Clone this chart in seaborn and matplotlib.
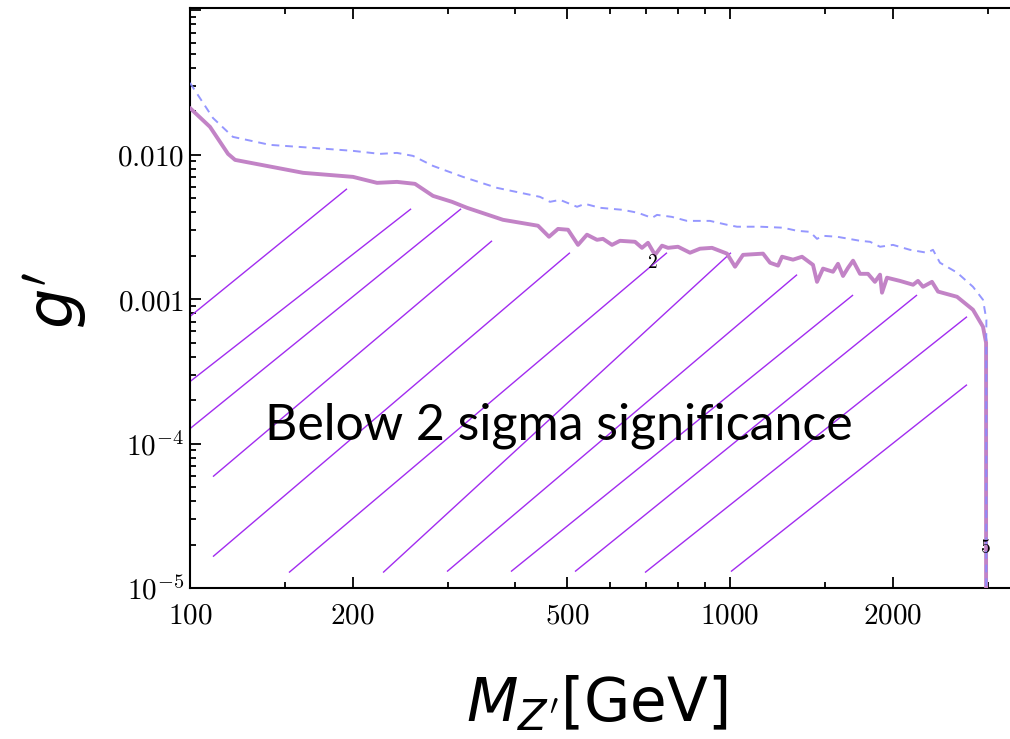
import numpy as np
import pandas as pd
import matplotlib
matplotlib.use("Agg")
import matplotlib.pyplot as plt
from matplotlib.ticker import FixedLocator, NullFormatter, LogLocator
import seaborn as sns

# 2-sigma significance contour (solid) and its companion contour (dashed)
mass_solid = [100, 108.9, 117.6, 121.2, 162.0, 200.4, 222.0, 241.7, 261.0, 281.8,
              305.6, 325.8, 379.8, 441.0, 462.2, 480.3, 501.2, 523.0, 543.4, 567.1,
              581.8, 604.6, 625.6, 667.0, 687.1, 704.9, 726.3, 748.3, 767.8, 801.2,
              843.2, 880.0, 926.3, 987.3, 1021.6, 1057.1, 1151.3, 1186.3, 1227.3, 1248.4,
              1308.3, 1359.4, 1424.7, 1449.2, 1486.8, 1551.5, 1584.9, 1619.2, 1654.0, 1690.0,
              1741.0, 1801.0, 1855.0, 1896.0, 1912.0, 1953.0, 2064.0, 2183.0, 2229.0, 2277.0,
              2366.0, 2428.0, 2633.0, 2818.0, 2941.0, 2980.0, 2980.0]
g_solid = [0.0211, 0.01563, 0.01016, 0.00923, 0.00751, 0.00704, 0.00640, 0.00650, 0.00630, 0.00520,
           0.00473, 0.00430, 0.00355, 0.00323, 0.00271, 0.00307, 0.00303, 0.00238, 0.00280, 0.00258,
           0.00262, 0.00238, 0.00254, 0.00250, 0.00227, 0.00246, 0.00203, 0.00235, 0.00227, 0.00231,
           0.00210, 0.00224, 0.00227, 0.00207, 0.00168, 0.00203, 0.00207, 0.00179, 0.00171, 0.00197,
           0.00188, 0.00197, 0.00173, 0.00132, 0.00163, 0.00155, 0.00176, 0.00145, 0.00165, 0.00185,
           0.00150, 0.00150, 0.00132, 0.00148, 0.00111, 0.00141, 0.00134, 0.00126, 0.00134, 0.00122,
           0.00132, 0.00113, 0.00104, 0.000846, 0.000645, 0.000500, 0.000005]

mass_dashed = [100, 110.3, 120.1, 140.6, 169.0, 200.4, 224.8, 241.7, 258.8, 281.8,
               320.2, 370.2, 444.7, 464.2, 484.4, 520.9, 538.8, 574.4, 633.8, 675.4,
               717.1, 732.5, 780.6, 832.4, 918.1, 987.3, 1030.3, 1136.7, 1253.5, 1330.7,
               1406.4, 1449.2, 1486.8, 1578.0, 1741.0, 1817.0, 1896.0, 2004.0, 2154.0, 2316.0,
               2376.0, 2448.0, 2633.0, 2818.0, 2941.0, 2984.0, 2982.0, 2982.0]
g_dashed = [0.0315, 0.0180, 0.01332, 0.01173, 0.01118, 0.01066, 0.01016, 0.01032, 0.00984, 0.00839,
            0.00704, 0.00591, 0.00512, 0.00473, 0.00488, 0.00437, 0.00458, 0.00430, 0.00416, 0.00397,
            0.00366, 0.00384, 0.00372, 0.00349, 0.00349, 0.00328, 0.00318, 0.00318, 0.00313, 0.00298,
            0.00293, 0.00262, 0.00275, 0.00271, 0.00254, 0.00250, 0.00231, 0.00238, 0.00220, 0.00210,
            0.00220, 0.00179, 0.00153, 0.00122, 0.000992, 0.000721, 0.000500, 0.000005]

# hatching of the excluded region: one segment per entry (start -> end)
hatch_m0 = [100, 100, 100, 110.3, 110.3, 152.5, 227.8, 299.2, 393.0, 516.4, 696.0, 1004.0]
hatch_g0 = [7.6e-4, 2.69e-4, 1.27e-4, 5.91e-5, 1.65e-5, 1.28e-5, 1.28e-5, 1.30e-5, 1.30e-5, 1.30e-5, 1.28e-5, 1.30e-5]
hatch_m1 = [195.3, 256.7, 317.7, 362.5, 505.3, 764.3, 1004.0, 1331.0, 1690.0, 2220.0, 2747.0, 2747.0]
hatch_g1 = [5.82e-3, 4.23e-3, 4.23e-3, 2.54e-3, 2.10e-3, 2.10e-3, 2.10e-3, 1.48e-3, 1.07e-3, 1.07e-3, 7.57e-4, 2.56e-4]

# contour labels
contour_labels = ["2", "5"]
contour_label_m = [717, 2966]
contour_label_g = [1.79e-3, 1.90e-5]

x_major = [100, 200, 500, 1000, 2000]
x_major_labels = ["$100$", "$200$", "$500$", "$1000$", "$2000$"]
x_minor = [150, 300, 400, 600, 700, 800, 900, 1500, 3000]
y_major = [1e-5, 1e-4, 1e-3, 1e-2, 1e-1]
y_major_labels = [r"$10^{-5}$", r"$10^{-4}$", "$0.001$", "$0.010$", ""]

sns.set_theme(style="white")
plt.rcParams["font.family"] = ["DejaVu Sans"]
plt.rcParams["mathtext.fontset"] = "cm"

W, H = 1010, 739
fig = plt.figure(figsize=(W / 100, H / 100), dpi=100)
fig.patch.set_facecolor("white")
ax = fig.add_axes([190 / W, (H - 588) / H, 840 / W, 580 / H])
ax.set_facecolor("white")
ax.set_xscale("log")
ax.set_yscale("log")
ax.set_xlim(100, 10 ** (2 + 840 / 540))
ax.set_ylim(1e-5, 10 ** (-2 + 147 / 144.5))

hatch_color = "#a22cf0"
for m0, g0, m1, g1 in zip(hatch_m0, hatch_g0, hatch_m1, hatch_g1):
    ax.plot([m0, m1], [g0, g1], color=hatch_color, lw=1.0, solid_capstyle="butt", zorder=2)

solid_df = pd.DataFrame({"M": mass_solid, "g": g_solid})
dashed_df = pd.DataFrame({"M": mass_dashed, "g": g_dashed})
sns.lineplot(data=solid_df, x="M", y="g", ax=ax, sort=False, estimator=None,
             color="#c283c6", lw=2.8, zorder=3)
sns.lineplot(data=dashed_df, x="M", y="g", ax=ax, sort=False, estimator=None,
             color="#8a8cff", lw=1.4, zorder=4, dashes=False)
ax.lines[-1].set_dashes((4, 3))
ax.lines[-1].set_alpha(0.9)

for lab, m, g in zip(contour_labels, contour_label_m, contour_label_g):
    ax.text(m, g, "$" + lab + "$", ha="center", va="center", fontsize=14,
            color="black", zorder=5, math_fontfamily="cm")

ax.text(482, 1.07e-4, "Below 2 sigma significance", ha="center", va="baseline",
        fontsize=36, family="Lato", fontweight="normal", color="black", zorder=6)

# axes frame with inward ticks on all sides
for side in ["left", "bottom", "top", "right"]:
    ax.spines[side].set_visible(True)
    ax.spines[side].set_color("black")
    ax.spines[side].set_linewidth(1.5)

ax.xaxis.set_major_locator(FixedLocator(x_major))
ax.xaxis.set_minor_locator(FixedLocator(x_minor))
ax.set_xticklabels(x_major_labels)
ax.xaxis.set_minor_formatter(NullFormatter())
ax.yaxis.set_major_locator(FixedLocator(y_major))
ax.set_yticklabels(y_major_labels)
ax.yaxis.set_minor_locator(LogLocator(base=10, subs=np.arange(2, 10)))
ax.yaxis.set_minor_formatter(NullFormatter())

ax.tick_params(which="both", direction="in", top=True, right=True, bottom=True, left=True,
               colors="black", labelcolor="black", width=1.3)
ax.tick_params(which="major", length=8)
ax.tick_params(which="minor", length=4.5)
ax.tick_params(axis="x", which="major", labelsize=21, pad=10)
ax.tick_params(axis="y", which="major", labelsize=21, pad=4)
for t in ax.get_xticklabels() + ax.get_yticklabels():
    t.set_math_fontfamily("cm")

ax.set_xlabel(r"$M_{Z^{\prime}}$[GeV]", fontsize=43, math_fontfamily="dejavusans", color="black")
ax.xaxis.set_label_coords((597 - 190) / 840, -(704 - 588) / 580, transform=ax.transAxes)
ax.xaxis.label.set_va("center")
ax.set_ylabel(r"$g^{\prime}$", fontsize=46, math_fontfamily="dejavusans", color="black")
ax.yaxis.set_label_coords(-(190 - 55) / 840, (588 - 300) / 580, transform=ax.transAxes)
ax.yaxis.label.set_va("center")
ax.grid(False)

fig.savefig("out.png", dpi=100, facecolor="white")
